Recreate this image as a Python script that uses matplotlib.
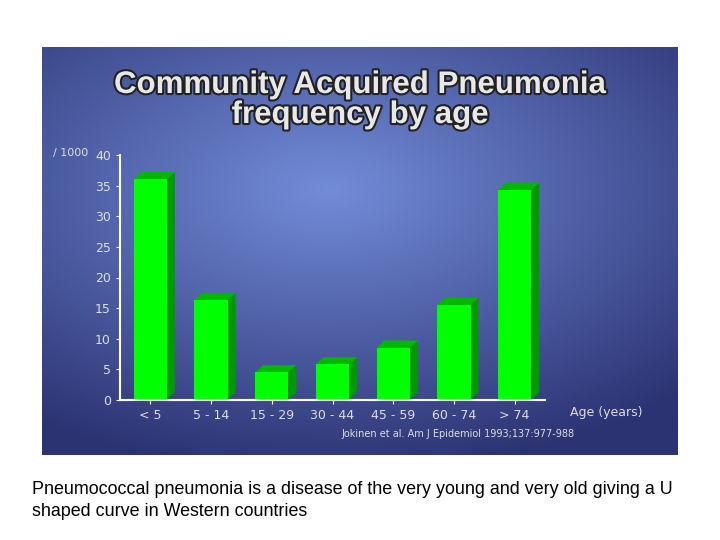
import numpy as np
import matplotlib.pyplot as plt
import matplotlib.patheffects as pe
from matplotlib.patches import Polygon

age_groups = ['< 5', '5 - 14', '15 - 29', '30 - 44', '45 - 59', '60 - 74', '> 74']
rate_per_1000 = [36.0, 16.3, 4.5, 5.8, 8.5, 15.5, 34.3]

W, H = 720, 540
fig = plt.figure(figsize=(7.2, 5.4), dpi=100)
fig.patch.set_facecolor('white')

# slide panel with blue gradient
bg = fig.add_axes([42 / W, 1 - 455 / H, 636 / W, 408 / H])
yy, xx = np.mgrid[0:1:200j, 0:1:300j]
d = np.sqrt(((xx - 0.45) / 0.8) ** 2 + ((yy - 0.35) / 0.7) ** 2)
t = np.clip(d, 0, 1)
c1 = np.array([0.45, 0.55, 0.85])
c2 = np.array([0.17, 0.20, 0.45])
img = c1[None, None, :] * (1 - t[..., None]) + c2[None, None, :] * t[..., None]
bg.imshow(img, aspect='auto', extent=[0, 1, 0, 1], origin='upper')
bg.set_axis_off()
shadow = [pe.withStroke(linewidth=3, foreground='#222222')]
fig.text(360 / W, 1 - 85 / H, 'Community Acquired Pneumonia', ha='center', va='center',
         fontsize=22.5, fontweight='bold', color='#e8e8e8', family='Liberation Sans',
         path_effects=shadow)
fig.text(360 / W, 1 - 115 / H, 'frequency by age', ha='center', va='center',
         fontsize=22.5, fontweight='bold', color='#e8e8e8', family='Liberation Sans',
         path_effects=shadow)

# chart axes
ax = fig.add_axes([120 / W, 1 - 400 / H, 425 / W, 245 / H])
ax.patch.set_alpha(0)
x = np.arange(len(age_groups)) + 0.5
bw = 0.55
dx, dy = 0.13, 1.2
for xi, v in zip(x, rate_per_1000):
    l, r = xi - bw / 2, xi + bw / 2
    ax.add_patch(Polygon([(r, 0), (r + dx, dy), (r + dx, v + dy), (r, v)], closed=True,
                         facecolor='#009a00', edgecolor='none', clip_on=False))
    ax.add_patch(Polygon([(l, v), (l + dx, v + dy), (r + dx, v + dy), (r, v)], closed=True,
                         facecolor='#00b800', edgecolor='none', clip_on=False))
ax.bar(x, rate_per_1000, width=bw, color='#00ff00', edgecolor='none')
ax.set_xlim(0, 7)
ax.set_ylim(0, 40)
ax.set_yticks(range(0, 41, 5))
ax.set_xticks(x)
ax.set_xticklabels(age_groups)
for s in ['top', 'right']:
    ax.spines[s].set_visible(False)
for s in ['left', 'bottom']:
    ax.spines[s].set_color('white')
    ax.spines[s].set_linewidth(1.5)
ax.tick_params(colors='white', labelcolor='#dddddd', labelsize=9, length=3)
ax.text(-0.075, 1.01, '/ 1000', transform=ax.transAxes, ha='right', va='center',
        color='#dddddd', fontsize=8)
ax.text(1.06, -0.05, 'Age (years)', transform=ax.transAxes, ha='left', va='center',
        color='#dddddd', fontsize=9)
ax.text(0.52, -0.14, 'Jokinen et al. Am J Epidemiol 1993;137:977-988', transform=ax.transAxes,
        ha='left', va='center', color='#dddddd', fontsize=7)

fig.text(32 / W, 1 - 490 / H, 'Pneumococcal pneumonia is a disease of the very young and very old giving a U',
         fontsize=12.9, color='black', va='center', family='Liberation Sans')
fig.text(32 / W, 1 - 511 / H, 'shaped curve in Western countries',
         fontsize=12.9, color='black', va='center', family='Liberation Sans')

fig.savefig('out.png', dpi=100)
